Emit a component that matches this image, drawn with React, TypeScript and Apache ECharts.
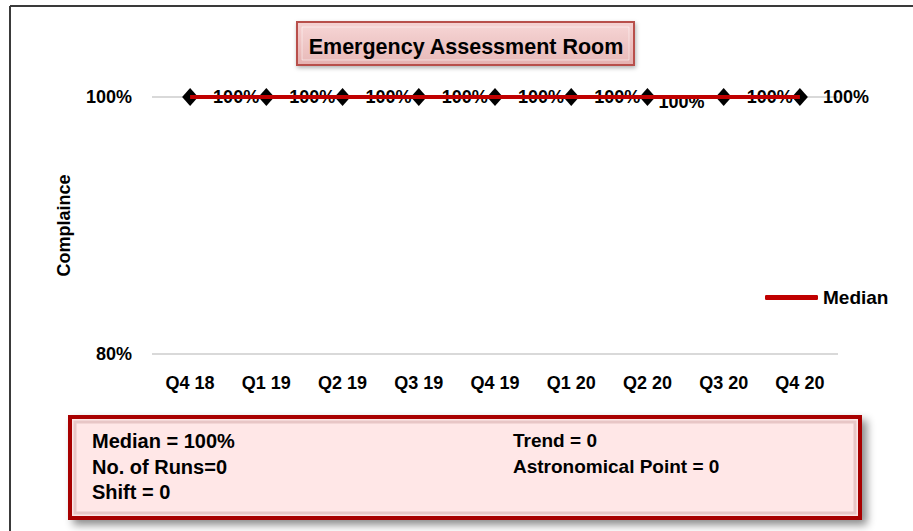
import React, { useEffect, useRef } from "react";
import * as echarts from "echarts";

const categories = ["Q4 18", "Q1 19", "Q2 19", "Q3 19", "Q4 19", "Q1 20", "Q2 20", "Q3 20", "Q4 20"];
const compliance = [100, 100, 100, 100, 100, 100, 100, 100, 100];
const medianValues = [100, 100, 100, 100, 100, 100, 100, 100, 100];
const yMin = 80;
const yMax = 100;
const yInterval = 20;
const titleText = "Emergency Assessment Room";
const yAxisName = "Complaince";
const statsLeft = ["Median = 100%", "No. of Runs=0", "Shift = 0"];
const statsRight = ["Trend = 0", "Astronomical Point = 0"];

const FONT = "'Liberation Sans', Arial, sans-serif";

export default function App() {
  const ref = useRef<HTMLDivElement>(null);

  useEffect(() => {
    document.body.style.margin = "0";
    const chart = echarts.init(ref.current as HTMLDivElement, null, { renderer: "svg" });

    const statTexts: any[] = [];
    statsLeft.forEach((t, i) => {
      statTexts.push({
        type: "text",
        left: 92,
        top: 431 + i * 25.5,
        z: 20,
        style: { text: t, font: `bold 20px ${FONT}`, fill: "#000" },
      });
    });
    statsRight.forEach((t, i) => {
      statTexts.push({
        type: "text",
        left: 513,
        top: 431 + i * 25.5,
        z: 20,
        style: { text: t, font: `bold 19px ${FONT}`, fill: "#000" },
      });
    });

    chart.setOption({
      animation: false,
      backgroundColor: "#ffffff",
      textStyle: { fontFamily: FONT },
      title: {
        text: titleText,
        left: 461,
        top: 31,
        textAlign: "center",
        textStyle: { fontFamily: FONT, fontWeight: "bold", fontSize: 21.5, color: "#000" },
        z: 20,
      },
      legend: {
        data: ["Median"],
        orient: "vertical",
        left: 765,
        top: 288,
        padding: 0,
        icon: "roundRect",
        itemWidth: 53,
        itemHeight: 5,
        textStyle: { fontFamily: FONT, fontWeight: "bold", fontSize: 19, color: "#000" },
      },
      grid: { left: 152, right: 75, top: 97, bottom: 177 },
      xAxis: {
        type: "category",
        data: categories,
        boundaryGap: true,
        axisLine: { show: false },
        axisTick: { show: false },
        axisLabel: { margin: 20, fontFamily: FONT, fontWeight: "bold", fontSize: 18, color: "#000" },
      },
      yAxis: {
        type: "value",
        min: yMin,
        max: yMax,
        interval: yInterval,
        name: yAxisName,
        nameLocation: "middle",
        nameGap: 79,
        nameTextStyle: { fontFamily: FONT, fontWeight: "bold", fontSize: 18, color: "#000" },
        axisLine: { show: false },
        axisTick: { show: false },
        splitLine: { lineStyle: { color: "#D9D9D9", width: 2 } },
        axisLabel: { margin: 20, formatter: "{value}%", fontFamily: FONT, fontWeight: "bold", fontSize: 18, color: "#000" },
      },
      series: [
        {
          name: "Compliance",
          type: "line",
          data: compliance.map((v, i) =>
            i === 6
              ? { value: v, label: { offset: [-12, 5] } }
              : { value: v }
          ),
          symbol: "diamond",
          symbolSize: [16, 18],
          lineStyle: { width: 0, opacity: 0 },
          itemStyle: { color: "#000" },
          z: 2,
          label: {
            show: true,
            position: "right",
            distance: 15,
            formatter: (p: any) => `${p.value}%`,
            fontFamily: FONT,
            fontWeight: "bold",
            fontSize: 18,
            color: "#000",
          },
        },
        {
          name: "Median",
          type: "line",
          data: medianValues,
          symbol: "none",
          lineStyle: { color: "#C00000", width: 4 },
          itemStyle: { color: "#C00000" },
          z: 3,
        },
      ],
      graphic: [
        // outer frame
        { type: "line", z: 1, shape: { x1: 10, y1: 6, x2: 913, y2: 6 }, style: { stroke: "#3a3a3a", lineWidth: 2 } },
        { type: "line", z: 1, shape: { x1: 10, y1: 6, x2: 10, y2: 531 }, style: { stroke: "#3a3a3a", lineWidth: 2 } },
        // title box
        {
          type: "rect",
          z: 10,
          shape: { x: 297, y: 22, width: 337, height: 43 },
          style: {
            fill: new echarts.graphic.LinearGradient(0, 0, 0, 1, [
              { offset: 0, color: "#F6D2D2" },
              { offset: 1, color: "#E5B1B0" },
            ]),
            stroke: "#B8504C",
            lineWidth: 2,
            shadowBlur: 4,
            shadowOffsetX: 1,
            shadowOffsetY: 2,
            shadowColor: "rgba(0,0,0,0.3)",
          },
        },
        {
          type: "rect",
          z: 11,
          shape: { x: 302, y: 27, width: 327, height: 33 },
          style: { fill: "rgba(255,255,255,0.1)", stroke: "rgba(255,255,255,0.5)", lineWidth: 1 },
        },
        // stats box
        {
          type: "rect",
          z: 10,
          shape: { x: 70, y: 417, width: 790, height: 101 },
          style: {
            fill: "#FDE6E6",
            stroke: "#A80000",
            lineWidth: 4,
            shadowBlur: 8,
            shadowOffsetX: 5,
            shadowOffsetY: 5,
            shadowColor: "rgba(0,0,0,0.45)",
          },
        },
        {
          type: "rect",
          z: 11,
          shape: { x: 75, y: 422, width: 780, height: 91 },
          style: { fill: "#FFE7E7", stroke: "#E8C6C6", lineWidth: 3 },
        },
        ...statTexts,
      ],
    });

    return () => chart.dispose();
  }, []);

  return (
    <div
      ref={ref}
      style={{ position: "absolute", left: 0, top: 0, width: 913, height: 531 }}
    />
  );
}
